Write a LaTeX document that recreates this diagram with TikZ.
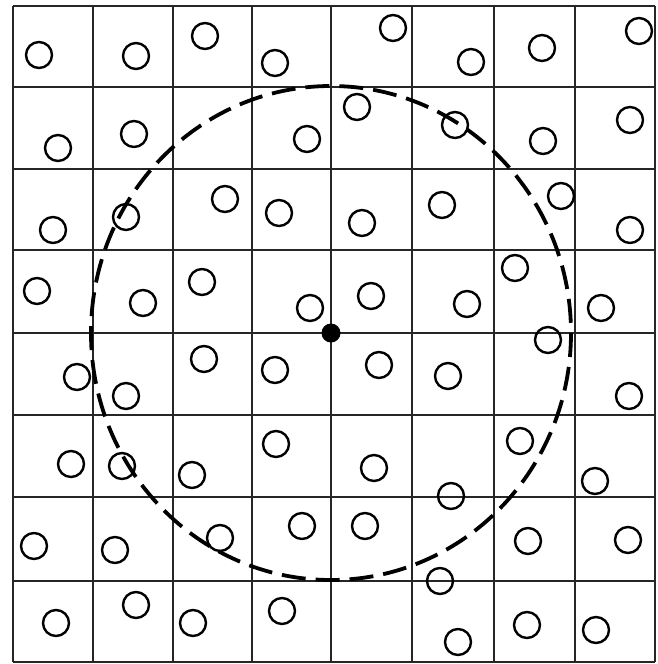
\documentclass[tikz,border=0pt]{standalone}
\begin{document}
\begin{tikzpicture}[x=1pt,y=-1pt,
  gridline/.style={line width=1.7pt,black!85},
  ball/.style={circle,draw,line width=2.4pt,minimum size=26pt,inner sep=0pt},
  reach/.style={line width=3.8pt,dash pattern=on 24pt off 10pt},
  centre/.style={circle,fill=black,minimum size=19pt,inner sep=0pt}]
\useasboundingbox (0,0) rectangle (658,664);
\fill[white] (0,0) rectangle (658,664);
% grid
\foreach \x in {13,93,173,252,331,412,494,575,655}
  \draw[gridline] (\x,6) -- (\x,662);
\foreach \y in {6,87,169,250,333,415,497,581,662}
  \draw[gridline] (13,\y) -- (655,\y);
% particles
\foreach \px/\py [count=\i] in {
  39/55,136/56,205/36,275/63,393/28,471/62,542/48,639/31,
  58/148,134/134,307/139,357/107,455/125,543/141,630/120,
  53/230,126/217,225/199,279/213,362/223,442/205,561/196,630/230,
  37/291,143/303,202/282,310/308,371/296,467/304,515/268,601/308,
  77/377,126/396,204/359,275/370,379/365,448/376,548/340,629/396,
  71/464,122/466,192/475,276/444,374/468,451/496,520/441,595/481,
  34/546,115/550,220/538,302/526,365/526,440/581,528/541,628/540,
  56/623,136/605,193/623,282/611,458/642,527/625,596/630}
  \node[ball] (p\i) at (\px,\py) {};
% cutoff circle
\node[centre] (c) at (331,333) {};
\draw[reach] (c.center) ellipse [x radius=240, y radius=247];
\end{tikzpicture}
\end{document}
